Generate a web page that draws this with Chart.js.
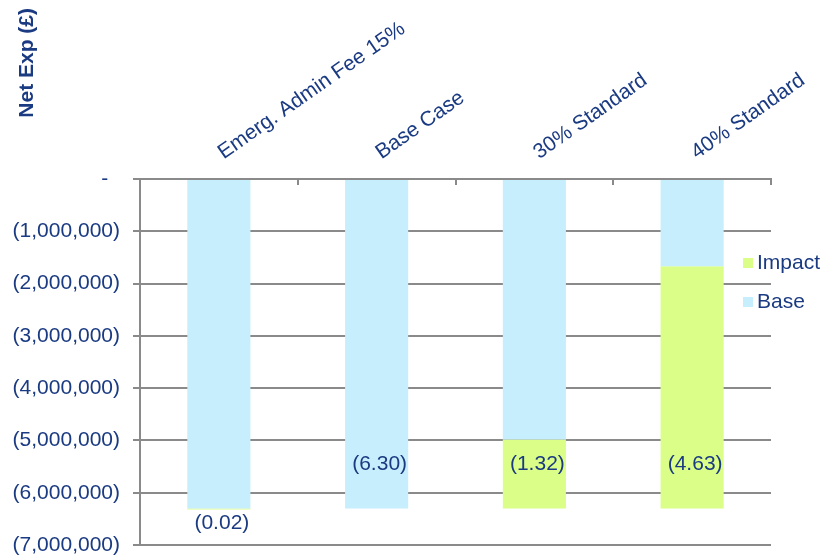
<!DOCTYPE html>
<html>
<head>
<meta charset="utf-8">
<script src="https://cdn.jsdelivr.net/npm/chart.js@4.4.1/dist/chart.umd.min.js"></script>
<style>
  html, body { margin: 0; padding: 0; background: #fff; }
  #wrap { width: 823px; height: 558px; }
</style>
</head>
<body>
<div id="wrap"><canvas id="chart" width="823" height="558"></canvas></div>
<script>
// scenario names (top axis)
var categories = ['Emerg. Admin Fee 15%', 'Base Case', '30% Standard', '40% Standard'];
// net expenditure, £ (negative = cost)
var base_values = [-6300000, -6300000, -4980000, -1670000];
var impact_values = [-20000, 0, -1320000, -4630000];
// figures printed on the bars, £m
var bar_labels = [-0.02, -6.30, -1.32, -4.63];
// y axis
var y_min = -7000000;
var y_max = 0;
var y_step = 1000000;
var y_title = 'Net Exp (£)';

var navy = '#1A3A82';
var grey = '#8A8A8A';
var fontFamily = "'Liberation Sans', Arial, sans-serif";

function fmtAxis(v){
    if (v === 0) return '-  ';
    return '(' + Math.abs(v).toLocaleString('en-US') + ')';
}

// labels, legend, title and inner tick marks
var extras = {
    id: 'extras',
    afterDatasetsDraw: function(chart){
        var ctx = chart.ctx;
        var area = chart.chartArea;
        var x = chart.scales.x;
        var y = chart.scales.y;
        ctx.save();

        // small ticks hanging from the top axis at category boundaries
        ctx.strokeStyle = grey;
        ctx.lineWidth = 2;
        for (var i = 0; i < categories.length; i++){
            var bx = Math.round((x.getPixelForValue(i) + x.getPixelForValue(i + 1)) / 2);
            if (i == categories.length - 1) bx = Math.round(area.right);
            ctx.beginPath();
            ctx.moveTo(bx, area.top);
            ctx.lineTo(bx, area.top + 6);
            ctx.stroke();
        }

        // value labels
        ctx.fillStyle = navy;
        ctx.font = '21px ' + fontFamily;
        ctx.textAlign = 'center';
        ctx.textBaseline = 'middle';
        var metaB = chart.getDatasetMeta(0);
        var metaI = chart.getDatasetMeta(1);
        for (var j = 0; j < bar_labels.length; j++){
            var bottom = y.getPixelForValue(base_values[j] + impact_values[j]);
            var segH = Math.abs(metaI.data[j].base - metaI.data[j].y);
            // a sliver of impact gets its figure under the bar
            var ly = (segH > 0 && segH < 20) ? bottom + 14 : bottom - 44;
            var txt = '(' + Math.abs(bar_labels[j]).toFixed(2) + ')';
            ctx.fillText(txt, metaB.data[j].x + 3, ly);
        }

        // legend, drawn over the right of the plot
        var items = [chart.data.datasets[1], chart.data.datasets[0]];
        ctx.textAlign = 'left';
        for (var k = 0; k < items.length; k++){
            var cy = area.top + 84 + k * 39;
            ctx.fillStyle = items[k].backgroundColor;
            ctx.fillRect(area.right - 28, cy - 5, 10, 10);
            ctx.fillStyle = navy;
            ctx.fillText(items[k].label, area.right - 14, cy);
        }

        // axis title, top left
        ctx.font = 'bold 21px ' + fontFamily;
        ctx.translate(27, 8);
        ctx.rotate(-Math.PI / 2);
        ctx.textAlign = 'right';
        ctx.textBaseline = 'middle';
        ctx.fillText(y_title, 0, 0);
        ctx.restore();
    }
};

const data = {
    labels: categories,
    datasets: [{
        label: 'Base',
        data: base_values,
        backgroundColor: '#C7EEFD',
        barPercentage: 0.4,
        categoryPercentage: 1.0
    },{
        label: 'Impact',
        data: impact_values,
        backgroundColor: '#DAFE88',
        barPercentage: 0.4,
        categoryPercentage: 1.0
    }]
};

const config = {
    type: 'bar',
    data,
    options: {
        responsive: false,
        animation: false,
        layout: {
            padding: { left: 0, right: 52, top: 0, bottom: 13 }
        },
        plugins: {
            legend: { display: false },
            tooltip: { enabled: false }
        },
        scales: {
            x: {
                position: 'top',
                stacked: true,
                grid: { display: false },
                border: { display: true, color: grey, width: 2 },
                ticks: {
                    color: navy,
                    font: { size: 21, family: fontFamily },
                    minRotation: 35,
                    maxRotation: 35,
                    autoSkip: false,
                    labelOffset: 16,
                    padding: 6
                },
                afterFit: function(scale){
                    scale.height = 179;
                    scale.paddingLeft = 0;
                    scale.paddingRight = 0;
                }
            },
            y: {
                stacked: true,
                min: y_min,
                max: y_max,
                grid: { color: grey, lineWidth: 2, tickLength: 7 },
                border: { display: true, color: grey, width: 2 },
                ticks: {
                    stepSize: y_step,
                    color: navy,
                    font: { size: 21, family: fontFamily },
                    padding: 13,
                    callback: fmtAxis
                },
                afterFit: function(scale){
                    scale.width = 140;
                    scale.paddingTop = 0;
                    scale.paddingBottom = 0;
                }
            }
        }
    },
    plugins: [extras]
};

const ctx = document.getElementById('chart').getContext('2d');
const myChart = new Chart(ctx, config);
</script>
</body>
</html>
